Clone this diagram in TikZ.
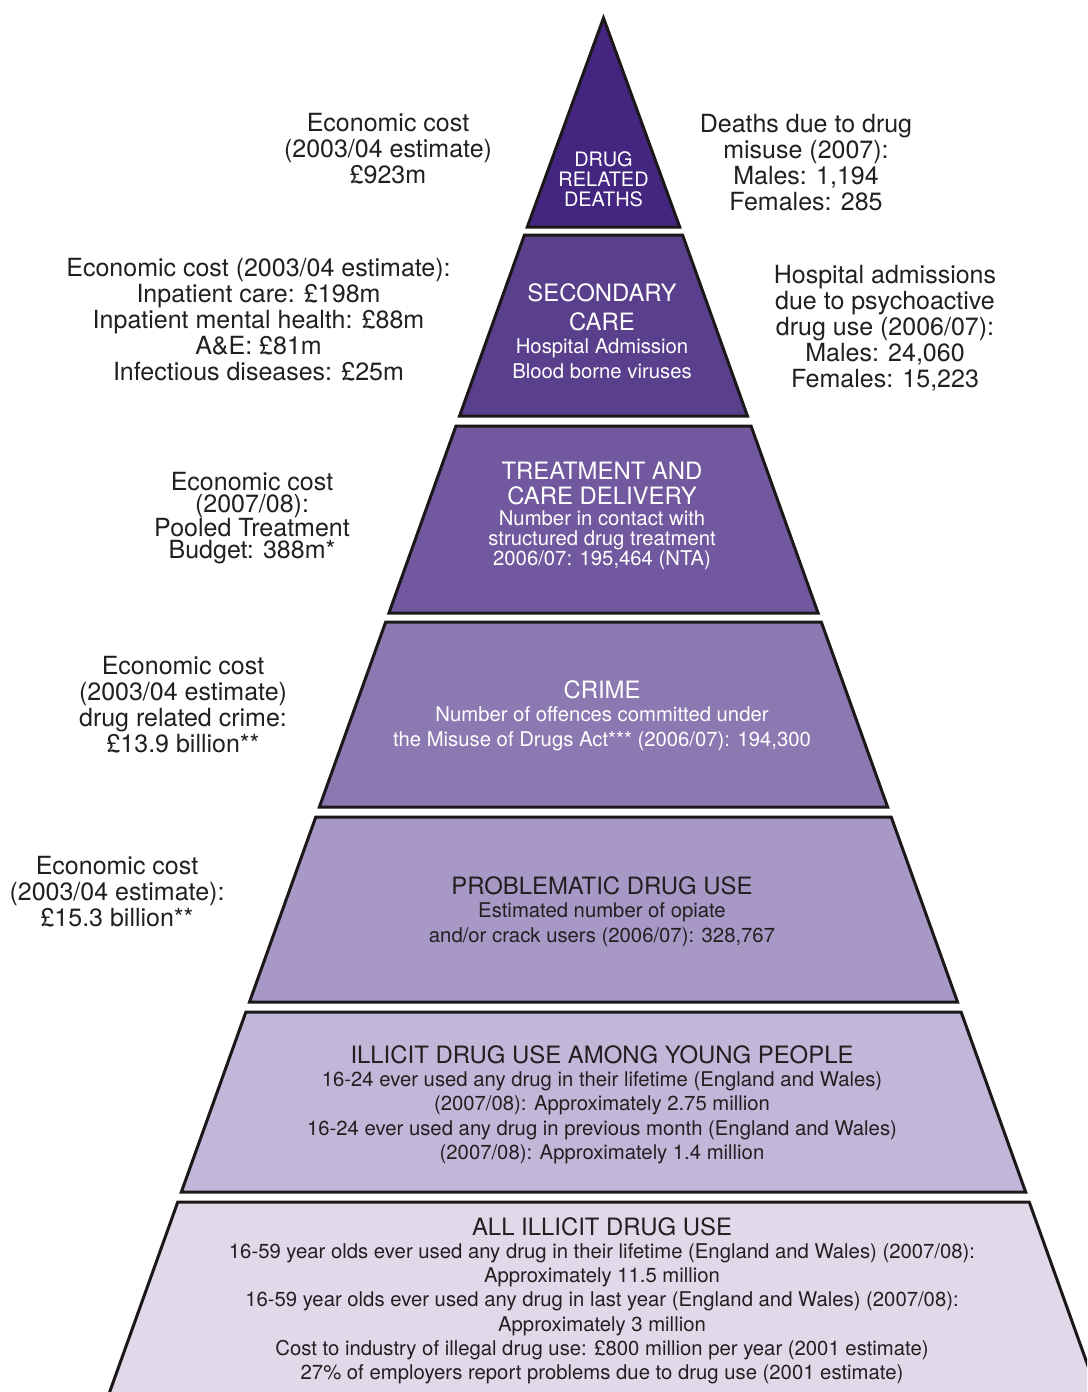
\documentclass[tikz,border=0pt]{standalone}
\usepackage{fontspec}
\setmainfont{TeX Gyre Heros}
\definecolor{tA}{HTML}{442680}
\definecolor{tB}{HTML}{5A3F8D}
\definecolor{tC}{HTML}{72589E}
\definecolor{tD}{HTML}{8D79B2}
\definecolor{tE}{HTML}{A898C6}
\definecolor{tF}{HTML}{C1B7D8}
\definecolor{tG}{HTML}{DFD9EA}
\definecolor{ink}{HTML}{231F20}
\definecolor{edge}{HTML}{1C1819}
\begin{document}
\begin{tikzpicture}[x=1pt,y=-1pt,
  tier/.style={draw=edge, line width=3pt, line join=miter},
  lbl/.style={align=center, inner sep=0pt, anchor=north, text=ink},
  side/.style={lbl, font=\fontsize{25}{26}\selectfont},
  ttl/.style={lbl, font=\fontsize{23.9}{29}\selectfont},
  sub/.style={lbl, font=\fontsize{20.3}{25}\selectfont},
  wht/.style={text=white}]
\useasboundingbox (0,0) rectangle (1087,1392);
\clip (0,0) rectangle (1087,1392);
\fill[white] (0,0) rectangle (1087,1392);
% pyramid tiers
\draw[tier, fill=tA] (603.5,18) -- (679.7,227) -- (527.3,227) -- cycle;
\foreach \ya/\yb/\col in {235/416/tB, 426/613/tC, 622/807/tD, 817/1002/tE, 1012/1192/tF, 1202/1430/tG}{
  \pgfmathsetmacro\wa{0.3585*(\ya-14.5)}
  \pgfmathsetmacro\wb{0.3585*(\yb-14.5)}
  \draw[tier, fill=\col] (603.5-\wa,\ya) -- (603.5+\wa,\ya) -- (603.5+\wb,\yb) -- (603.5-\wb,\yb) -- cycle;
}
% tier texts
\node[lbl, wht, font=\fontsize{19.9}{20}\selectfont] (t1) at (603.5,151.6) {DRUG\\RELATED\\DEATHS};
\node[ttl, wht] (t2a) at (602,283.2) {SECONDARY\\CARE};
\node[sub, wht] (t2b) at (602,338.5) {Hospital Admission\\Blood borne viruses};
\node[ttl, wht, font=\fontsize{23.9}{25}\selectfont] (t3a) at (602,462.2) {TREATMENT AND\\CARE DELIVERY};
\node[sub, wht, font=\fontsize{20.3}{20}\selectfont] (t3b) at (602,510.5) {Number in contact with\\structured drug treatment\\2006/07: 195,464 (NTA)};
\node[ttl, wht] (t4a) at (602,680.2) {CRIME};
\node[sub, wht] (t4b) at (602,706.5) {Number of offences committed under\\the Misuse of Drugs Act*** (2006/07): 194,300};
\node[ttl] (t5a) at (602,876.2) {PROBLEMATIC DRUG USE};
\node[sub, font=\fontsize{20.3}{24.5}\selectfont] (t5b) at (602,902.5) {Estimated number of opiate\\and/or crack users (2006/07): 328,767};
\node[ttl] (t6a) at (602,1045.2) {ILLICIT DRUG USE AMONG YOUNG PEOPLE};
\node[sub, font=\fontsize{20.3}{24.4}\selectfont] (t6b) at (602,1071.5) {16-24 ever used any drug in their lifetime (England and Wales)\\(2007/08): Approximately 2.75 million\\16-24 ever used any drug in previous month (England and Wales)\\(2007/08): Approximately 1.4 million};
\node[ttl] (t7a) at (602,1217.2) {ALL ILLICIT DRUG USE};
\node[sub, font=\fontsize{20.3}{24.2}\selectfont] (t7b) at (602,1243.5) {16-59 year olds ever used any drug in their lifetime (England and Wales) (2007/08):\\Approximately 11.5 million\\16-59 year olds ever used any drug in last year (England and Wales) (2007/08):\\Approximately 3 million\\Cost to industry of illegal drug use: £800 million per year (2001 estimate)\\27\% of employers report problems due to drug use (2001 estimate)};
% side labels
\node[side] (l1) at (388,112.8) {Economic cost\\(2003/04 estimate)\\£923m};
\node[side] (r1) at (806,113.8) {Deaths due to drug\\misuse (2007):\\Males: 1,194\\Females: 285};
\node[side] (l2) at (258.5,257.8) {Economic cost (2003/04 estimate):\\Inpatient care: £198m\\Inpatient mental health: £88m\\A\&E: £81m\\Infectious diseases: £25m};
\node[side] (r2) at (885,264.8) {Hospital admissions\\due to psychoactive\\drug use (2006/07):\\Males: 24,060\\Females: 15,223};
\node[side, font=\fontsize{25}{22}\selectfont] (l3) at (252,471.8) {Economic cost\\(2007/08):\\Pooled Treatment\\Budget: 388m*};
\node[side] (l4) at (183,655.8) {Economic cost\\(2003/04 estimate)\\drug related crime:\\£13.9 billion**};
\node[side] (l5) at (117,855.8) {Economic cost\\(2003/04 estimate):\\£15.3 billion**};
\end{tikzpicture}
\end{document}
